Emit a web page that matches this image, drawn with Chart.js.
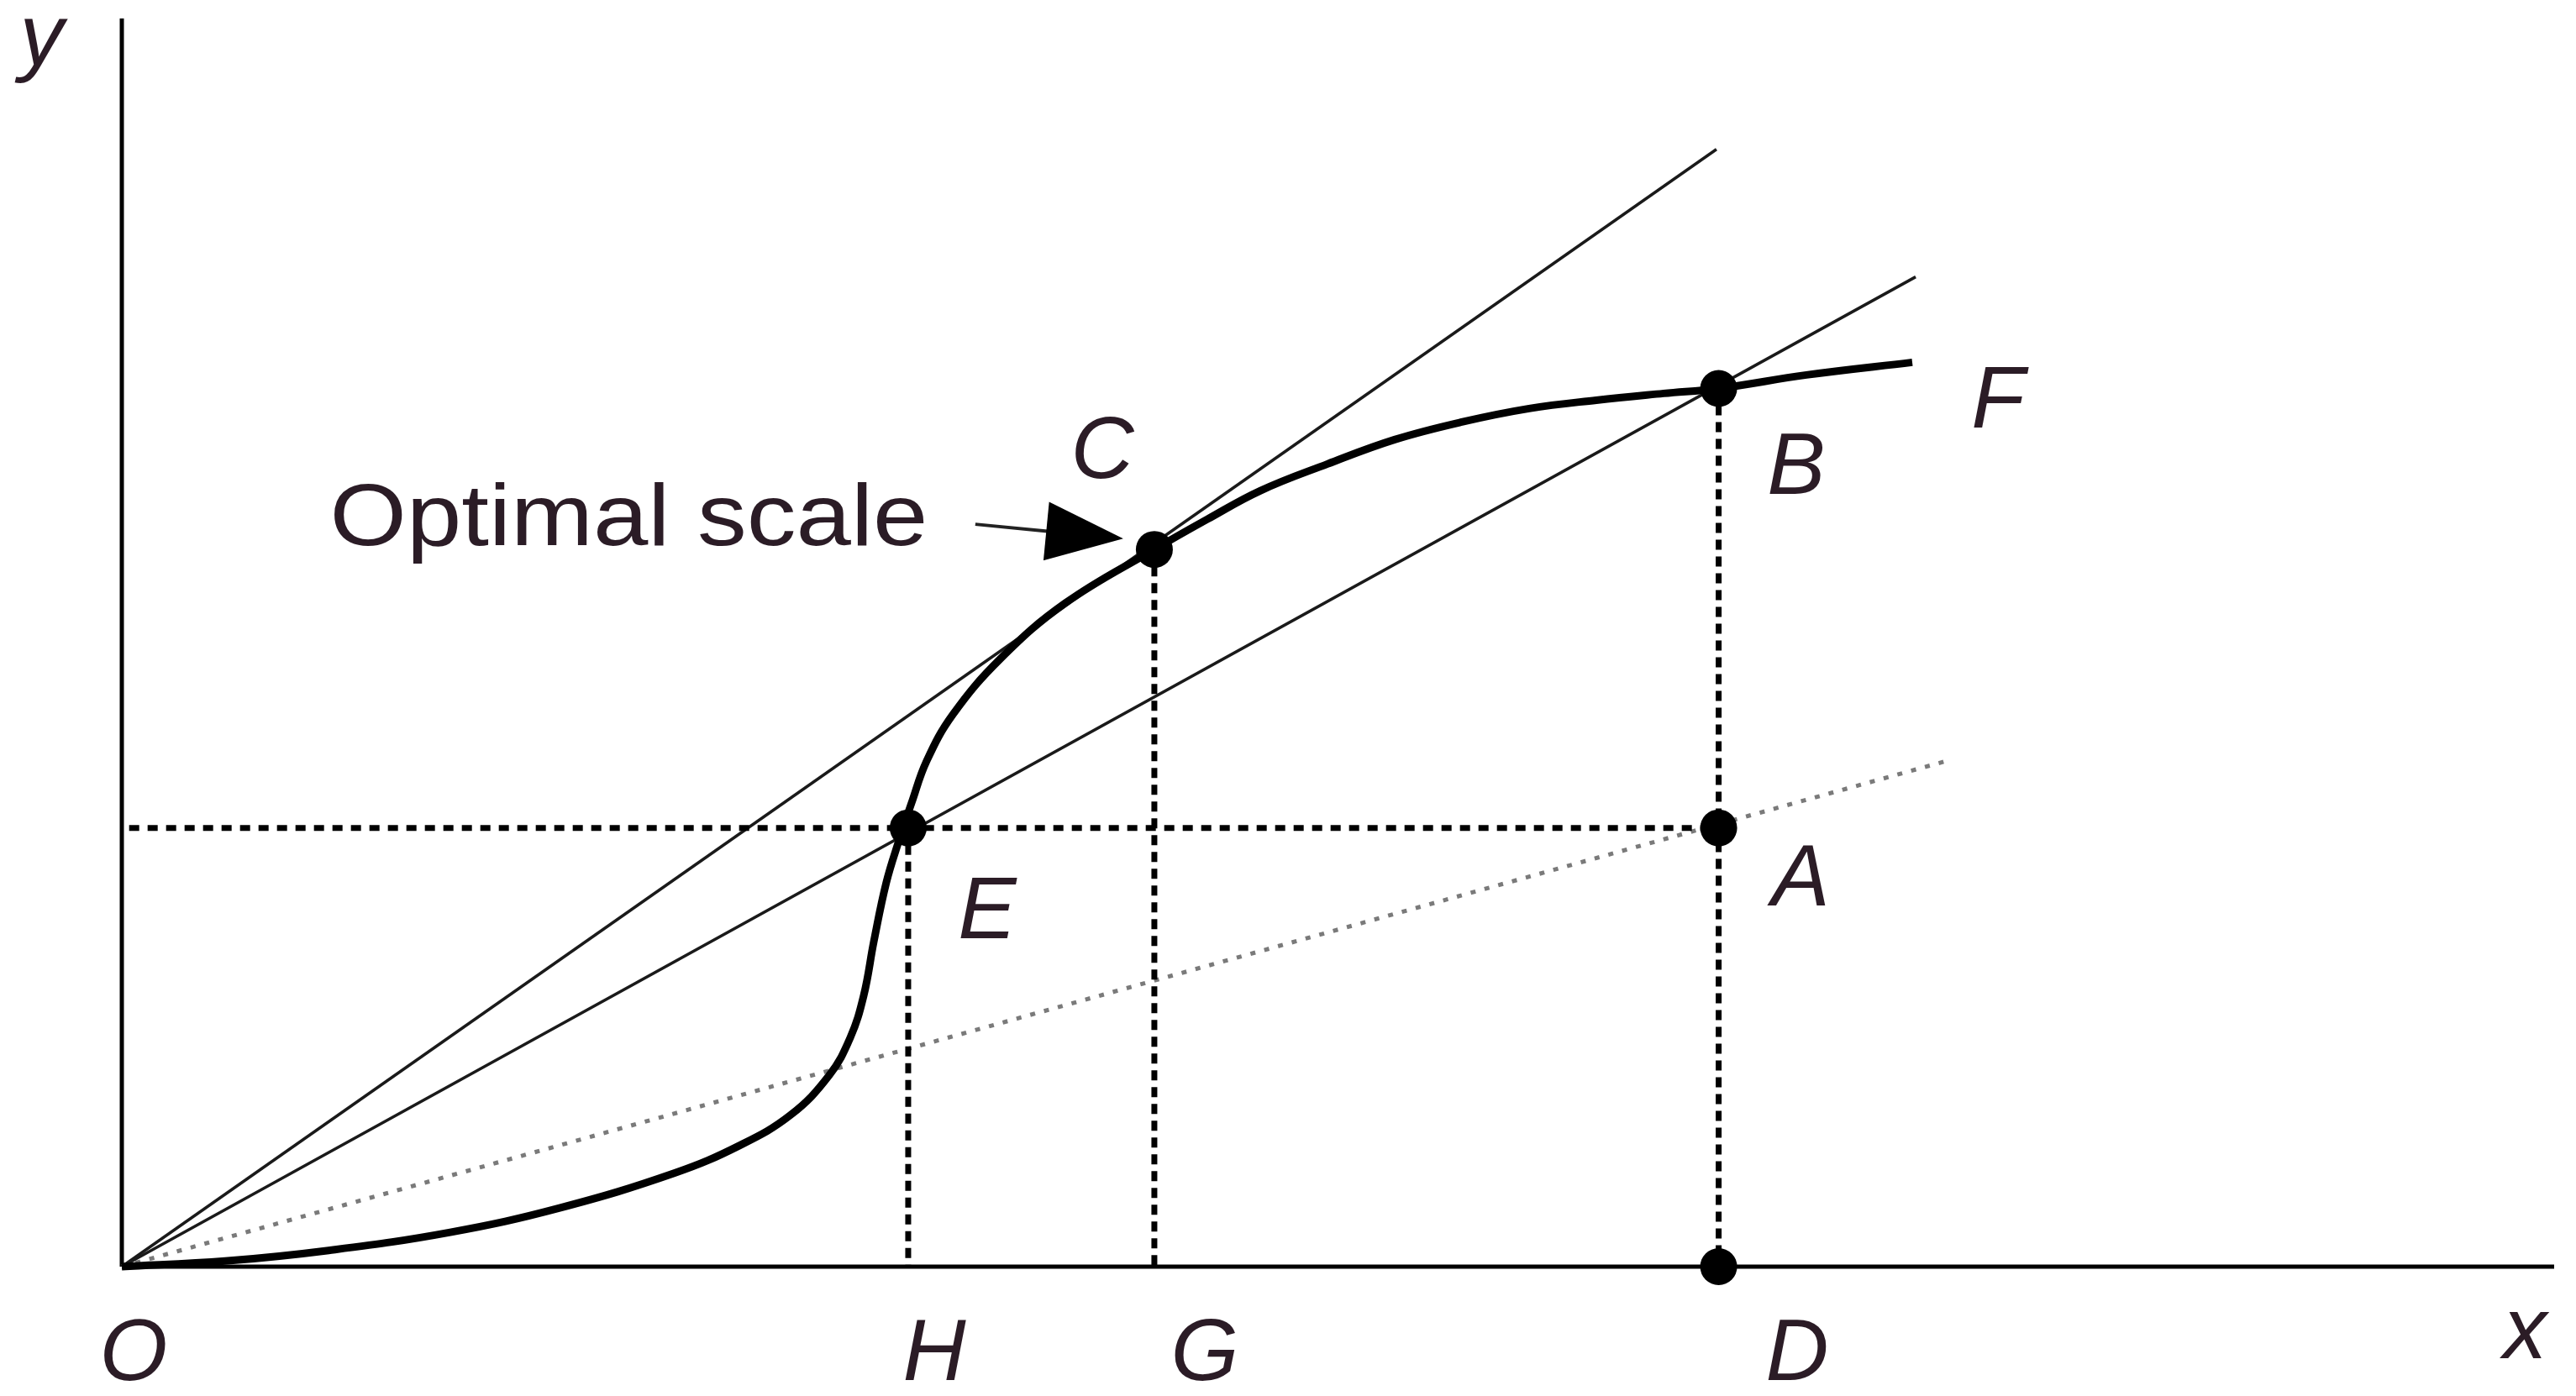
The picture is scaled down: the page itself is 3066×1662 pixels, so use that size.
<!DOCTYPE html>
<html>
<head>
<meta charset="utf-8">
<script src="https://cdn.jsdelivr.net/npm/chart.js@4"></script>
<style>
    html, body { margin: 0; padding: 0; background: #fff; }
    #chart { display: block; }
</style>
</head>
<body>
<canvas id="chart" width="3066" height="1662"></canvas>
<script>
const inkColor = '#000';
const thinColor = '#1a1a1a';
const greyDotColor = '#7a7a7a';
const labelColor = '#2b1c26';
const labelFont = '"Liberation Sans", Arial, sans-serif';

// the S shaped cost curve, from O through E, C, B to F
const curveX = [0, 4.25, 8.5, 13.5, 18.0, 22.73, 25.39, 27.5, 29.08, 29.95, 30.5, 30.92, 31.43, 31.95,
    32.47, 33.09, 34.16, 36.13, 38.79, 42.45, 44.63, 46.8, 49.57, 52.33, 55.09, 57.86, 60.62, 63.39, 65.65, 69.26, 73.61];
const curveY = [0, 0.45, 1.3, 2.75, 4.7, 7.5, 9.7, 12.16, 15.32, 18.35, 21.71, 26.08, 30.78, 34.14,
    37.16, 40.52, 44.22, 48.72, 53.16, 57.46, 59.88, 62.16, 64.31, 66.26, 67.67, 68.75, 69.42, 69.96, 70.36, 71.44, 72.45];

// marked points
const markNames = ['C', 'B', 'E', 'A', 'D'];
const markX = [42.45, 65.65, 32.33, 65.65, 65.65];
const markY = [57.46, 70.36, 35.15, 35.15, 0];

// rays from the origin: two solid ones, one grey dotted
const rayEndX = [65.56, 73.75];
const rayEndY = [89.52, 79.3];
const dottedRayEnd = [75.03, 40.52];

// text
const labelText = ['y', 'O', 'H', 'G', 'D', 'x', 'E', 'A', 'C', 'B', 'F'];
const labelX = [-3.3, 0.48, 33.4, 44.52, 68.88, 98.8, 35.58, 69.02, 40.31, 68.84, 77.13];
const labelY = [96.3, -9.07, -9.07, -9.07, -9.07, -7.33, 26.28, 28.97, 63.17, 61.9, 67.2];
const noteText = 'Optimal scale';
const notePos = [8.55, 57.8];
const arrowTail = [35.09, 59.48];
const arrowTip = [41.17, 58.33];

function pt(x, y) {
    return {x: x, y: y};
}

function lineSet(points, width, color, dash) {
    return {
        data: points,
        showLine: true,
        borderColor: color,
        borderWidth: width,
        borderDash: dash || [],
        pointRadius: 0,
        clip: false,
        fill: false
    };
}

const byName = {};
markNames.forEach((n, i) => byName[n] = pt(markX[i], markY[i]));

const datasets = [];

datasets.push({
    data: markNames.map(n => byName[n]),
    showLine: false,
    pointRadius: 22,
    pointBackgroundColor: inkColor,
    pointBorderWidth: 0,
    clip: false
});

const curve = lineSet(curveX.map((x, i) => pt(x, curveY[i])), 9, inkColor);
curve.tension = 0.4;
datasets.push(curve);

// dotted guides
datasets.push(lineSet([pt(0.3, byName.E.y), byName.A], 7, inkColor, [12, 10]));
['E', 'C', 'B'].forEach(n => {
    datasets.push(lineSet([byName[n], pt(byName[n].x, 0)], 7, inkColor, [12, 8]));
});

rayEndX.forEach((x, i) => {
    datasets.push(lineSet([pt(0, 0), pt(x, rayEndY[i])], 3.5, thinColor));
});
datasets.push(lineSet([pt(0, 0), pt(dottedRayEnd[0], dottedRayEnd[1])], 5, greyDotColor, [6, 11]));

// axes
datasets.push(lineSet([pt(0, 0), pt(100, 0)], 5, inkColor));
datasets.push(lineSet([pt(0, 0), pt(0, 100)], 5, inkColor));

const textPlugin = {
    id: 'textPlugin',
    afterDatasetsDraw: (chart) => {
        const ctx = chart.ctx;
        const xs = chart.scales.x;
        const ys = chart.scales.y;
        ctx.save();
        ctx.fillStyle = labelColor;
        ctx.textBaseline = 'alphabetic';
        ctx.textAlign = 'center';
        ctx.font = `italic 104px ${labelFont}`;
        labelText.forEach((t, i) => {
            ctx.fillText(t, xs.getPixelForValue(labelX[i]), ys.getPixelForValue(labelY[i]));
        });

        ctx.textAlign = 'left';
        ctx.font = `104px ${labelFont}`;
        ctx.save();
        ctx.translate(xs.getPixelForValue(notePos[0]), ys.getPixelForValue(notePos[1]));
        ctx.scale(1.13, 1);
        ctx.fillText(noteText, 0, 0);
        ctx.restore();

        // arrow
        const tx = xs.getPixelForValue(arrowTail[0]);
        const ty = ys.getPixelForValue(arrowTail[1]);
        const hx = xs.getPixelForValue(arrowTip[0]);
        const hy = ys.getPixelForValue(arrowTip[1]);
        const len = Math.hypot(hx - tx, hy - ty);
        const ux = (hx - tx) / len;
        const uy = (hy - ty) / len;
        const headLen = 92;
        const headHalf = 35;
        const bx = hx - ux * headLen;
        const by = hy - uy * headLen;
        ctx.strokeStyle = '#222';
        ctx.lineWidth = 4;
        ctx.beginPath();
        ctx.moveTo(tx, ty);
        ctx.lineTo(bx + ux * 4, by + uy * 4);
        ctx.stroke();
        ctx.fillStyle = inkColor;
        ctx.beginPath();
        ctx.moveTo(hx, hy);
        ctx.lineTo(bx - uy * headHalf, by + ux * headHalf);
        ctx.lineTo(bx + uy * headHalf, by - ux * headHalf);
        ctx.closePath();
        ctx.fill();
        ctx.restore();
    }
};

new Chart(document.getElementById('chart'), {
    type: 'scatter',
    data: {datasets: datasets},
    options: {
        responsive: false,
        animation: false,
        events: [],
        layout: {padding: {left: 145, right: 26, top: 20, bottom: 154}},
        scales: {
            x: {type: 'linear', min: 0, max: 100, display: false},
            y: {type: 'linear', min: 0, max: 100, display: false}
        },
        plugins: {
            legend: {display: false},
            tooltip: {enabled: false}
        }
    },
    plugins: [textPlugin]
});
</script>
</body>
</html>
